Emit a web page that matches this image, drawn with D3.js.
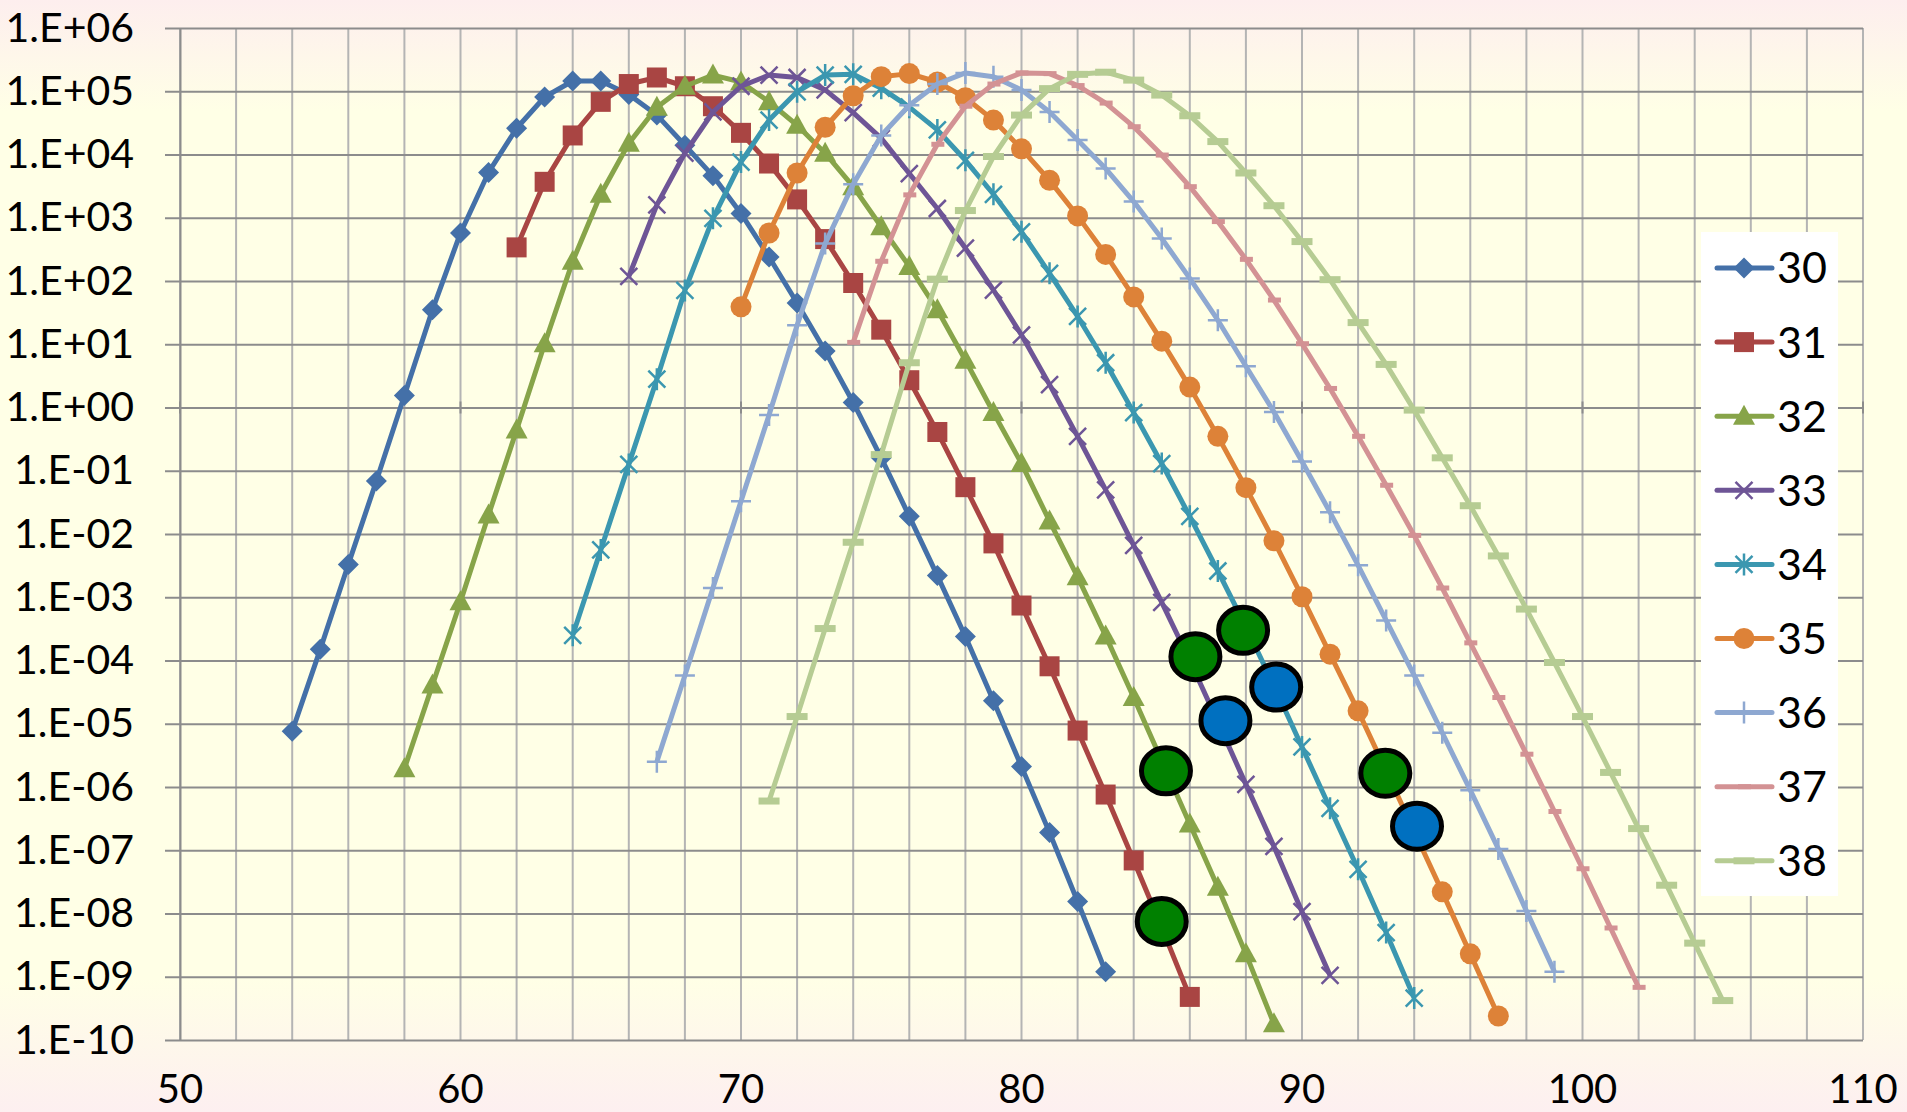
<!DOCTYPE html>
<html>
<head>
<meta charset="utf-8">
<script src="https://cdn.jsdelivr.net/npm/d3@7"></script>
<style>
  body { margin: 0; background: #fff; }
  text { font-family: Lato, "Open Sans", sans-serif; fill: #000; }
</style>
</head>
<body>
<svg id="chart" width="1907" height="1112"></svg>
<script>
// ---- data ----
const seriesNames = ["30", "31", "32", "33", "34", "35", "36", "37", "38"];
const seriesStart = [54, 62, 58, 66, 64, 70, 67, 74, 71];   // first x of each series, step 1
const seriesColors = ["#4470a8", "#a94543", "#87a449", "#6e5596", "#3b97b0", "#dd8238", "#8ea8d1", "#d39294", "#b6cc93"];
const seriesMarkers = ["diamond", "square", "triangle", "cross", "star", "circle", "plus", "dashS", "dashL"];

const s30 = [7.6e-6, 1.5e-4, 3.3e-3, 6.9e-2, 1.55, 35, 575, 5.2e3, 2.6e4, 8.1e4, 1.45e5, 1.45e5, 8.9e4, 4.2e4,
  1.4e4, 4.6e3, 1.17e3, 240, 45, 7.8, 1.2, 0.16, 1.9e-2, 2.2e-3, 2.4e-4, 2.3e-5, 2.1e-6, 1.9e-7, 1.55e-8, 1.2e-9];
const s31 = [340, 3.7e3, 2.0e4, 6.8e4, 1.3e5, 1.65e5, 1.2e5, 5.8e4, 2.2e4, 7.2e3, 1.95e3, 460, 93, 17, 2.7, 0.41,
  5.5e-2, 7.1e-3, 7.4e-4, 8.1e-5, 7.8e-6, 7.6e-7, 6.9e-8, 6.0e-9, 4.8e-10];
const s32 = [1.95e-6, 4.1e-5, 8.5e-4, 2.0e-2, 0.44, 10.2, 205, 2.35e3, 1.5e4, 5.6e4, 1.2e5, 1.8e5, 1.4e5, 6.8e4,
  2.9e4, 1.05e4, 3.1e3, 720, 170, 35, 5.6, 0.83, 0.13, 1.6e-2, 2.1e-3, 2.45e-4, 2.6e-5, 2.6e-6, 2.6e-7, 2.6e-8,
  2.3e-9, 1.8e-10];
const s33 = [118, 1.6e3, 1.05e4, 4.7e4, 1.2e5, 1.8e5, 1.65e5, 1.05e5, 4.6e4, 1.8e4, 5.0e3, 1.4e3, 330, 72, 14, 2.3,
  0.35, 5.0e-2, 6.6e-3, 8.3e-4, 1.0e-4, 1.07e-5, 1.1e-6, 1.15e-7, 1.07e-8, 1.05e-9];
const s34 = [2.5e-4, 5.6e-3, 0.126, 2.8, 71, 980, 7.6e3, 3.5e4, 9.8e4, 1.8e5, 1.85e5, 1.12e5, 5.6e4, 2.45e4, 8.1e3,
  2.35e3, 600, 132, 27.5, 5.1, 0.83, 0.13, 1.9e-2, 2.6e-3, 3.4e-4, 4.0e-5, 4.3e-6, 4.6e-7, 5.0e-8, 5.0e-9, 4.6e-10];
const s35 = [39, 575, 5.1e3, 2.7e4, 8.5e4, 1.7e5, 1.9e5, 1.4e5, 7.9e4, 3.5e4, 1.23e4, 3.9e3, 1.07e3, 263, 56, 11.2,
  2.1, 0.35, 5.4e-2, 7.8e-3, 1.02e-3, 1.26e-4, 1.6e-5, 1.8e-6, 2.0e-7, 2.2e-8, 2.3e-9, 2.4e-10];
const s36 = [2.5e-6, 5.8e-5, 1.4e-3, 3.3e-2, 0.76, 20, 390, 3.4e3, 2.0e4, 6.0e4, 1.3e5, 1.95e5, 1.7e5, 1.05e5, 4.7e4,
  1.7e4, 6.0e3, 1.8e3, 470, 110, 24, 4.5, 0.85, 0.14, 2.2e-2, 3.2e-3, 4.3e-4, 5.8e-5, 7.2e-6, 8.9e-7, 1.05e-7,
  1.1e-8, 1.2e-9];
const s37 = [10.7, 205, 2.3e3, 1.45e4, 5.8e4, 1.3e5, 1.95e5, 1.9e5, 1.23e5, 6.5e4, 2.75e4, 9.8e3, 3.1e3, 870, 220, 50,
  10.2, 2.0, 0.35, 5.9e-2, 9.5e-3, 1.4e-3, 1.9e-4, 2.6e-5, 3.3e-6, 4.1e-7, 5.1e-8, 5.9e-9, 6.8e-10];
const s38 = [6.0e-7, 1.3e-5, 3.2e-4, 7.4e-3, 0.18, 5.1, 107, 1.3e3, 9.3e3, 4.2e4, 1.1e5, 1.85e5, 2.0e5, 1.5e5, 8.7e4,
  4.1e4, 1.6e4, 5.1e3, 1.55e3, 420, 105, 22, 4.8, 0.91, 0.16, 2.8e-2, 4.5e-3, 6.5e-4, 9.3e-5, 1.3e-5, 1.7e-6,
  2.2e-7, 2.8e-8, 3.4e-9, 4.2e-10];
const seriesValues = [s30, s31, s32, s33, s34, s35, s36, s37, s38];

// highlighted points (big circles)
const greenX = [86.2, 87.9, 85.15, 85.0, 92.97];
const greenY = [1.15e-4, 3.0e-4, 1.8e-6, 7.5e-9, 1.65e-6];
const blueX = [87.27, 89.08, 94.1];
const blueY = [1.12e-5, 3.8e-5, 2.4e-7];

const xTicks = [50, 60, 70, 80, 90, 100, 110];
const yTicks = [1e-10, 1e-9, 1e-8, 1e-7, 1e-6, 1e-5, 1e-4, 1e-3, 1e-2, 1e-1, 1, 1e1, 1e2, 1e3, 1e4, 1e5, 1e6];

// ---- layout ----
const W = 1907, H = 1112;
const m = {l: 180, r: 1863, t: 28, b: 1040};
const svg = d3.select("#chart");

const x = d3.scaleLinear().domain([50, 110]).range([m.l, m.r]);
const y = d3.scaleLog().domain([1e-10, 1e6]).range([m.b, m.t]);

function fmtExp(v) {
  let e = Math.round(Math.log10(v));
  return "1.E" + (e < 0 ? "-" : "+") + String(Math.abs(e)).padStart(2, "0");
}

// background
let grad = svg.append("defs").append("linearGradient")
  .attr("id", "bg").attr("x1", 0).attr("y1", 0).attr("x2", 0).attr("y2", 1);
grad.append("stop").attr("offset", 0).attr("stop-color", "#fdeeee");
grad.append("stop").attr("offset", 0.1).attr("stop-color", "#ffffe6");
grad.append("stop").attr("offset", 0.88).attr("stop-color", "#ffffe6");
grad.append("stop").attr("offset", 1).attr("stop-color", "#fdeff0");
svg.append("rect").attr("width", W).attr("height", H).attr("fill", "url(#bg)");

// vertical grid, every 2
svg.append("g").selectAll("line")
  .data(d3.range(50, 111, 2))
  .enter().append("line")
  .attr("x1", d => x(d)).attr("x2", d => x(d))
  .attr("y1", m.t).attr("y2", m.b)
  .attr("stroke", "#b4b4b4").attr("stroke-width", 2);

// horizontal grid + y axis
let yAxis = svg.append("g")
  .attr("transform", "translate(" + m.l + ",0)")
  .call(d3.axisLeft(y).tickValues(yTicks).tickFormat(fmtExp)
    .tickSizeInner(15).tickSizeOuter(0).tickPadding(31));
yAxis.select(".domain").attr("stroke", "#8c8c8c").attr("stroke-width", 2);
yAxis.selectAll(".tick line").attr("stroke", "#8c8c8c").attr("stroke-width", 2);
yAxis.selectAll(".tick").append("line")
  .attr("x1", 0).attr("x2", m.r - m.l)
  .attr("stroke", "#8c8c8c").attr("stroke-width", 2);
yAxis.selectAll(".tick text")
  .attr("font-family", "Lato, sans-serif").attr("font-size", 41).attr("fill", "#000");

// x axis crosses at 1E+00 (tick marks only), labels at the bottom
svg.append("g").selectAll("line")
  .data(xTicks)
  .enter().append("line")
  .attr("x1", d => x(d)).attr("x2", d => x(d))
  .attr("y1", y(1) - 6).attr("y2", y(1) + 6)
  .attr("stroke", "#8c8c8c").attr("stroke-width", 2);
svg.append("g").selectAll("text")
  .data(xTicks)
  .enter().append("text")
  .attr("x", d => x(d)).attr("y", 1103)
  .attr("text-anchor", "middle")
  .attr("font-size", 40)
  .text(d => d);

// markers
function drawMarker(g, type, color) {
  if (type == "diamond") {
    g.append("path").attr("d", "M0,-10.5L10.5,0L0,10.5L-10.5,0Z").attr("fill", color);
  } else if (type == "square") {
    g.append("rect").attr("x", -10).attr("y", -10).attr("width", 20).attr("height", 20).attr("fill", color);
  } else if (type == "triangle") {
    g.append("path").attr("d", "M0,-11.5L11,8.5L-11,8.5Z").attr("fill", color);
  } else if (type == "cross") {
    g.append("path").attr("d", "M-8.5,-8.5L8.5,8.5M-8.5,8.5L8.5,-8.5").attr("stroke", color).attr("stroke-width", 2.5);
  } else if (type == "star") {
    g.append("path").attr("d", "M-8.5,-8.5L8.5,8.5M-8.5,8.5L8.5,-8.5M0,-11L0,11").attr("stroke", color).attr("stroke-width", 2.5);
  } else if (type == "circle") {
    g.append("circle").attr("r", 10.5).attr("fill", color);
  } else if (type == "plus") {
    g.append("path").attr("d", "M-10,0L10,0M0,-11L0,11").attr("stroke", color).attr("stroke-width", 2.5);
  } else if (type == "dashS") {
    g.append("rect").attr("x", -6).attr("y", -2.5).attr("width", 13).attr("height", 5).attr("fill", color);
  } else if (type == "dashL") {
    g.append("rect").attr("x", -10.5).attr("y", -3.5).attr("width", 21).attr("height", 7).attr("fill", color);
  }
}

let line = d3.line().x(d => x(d.x)).y(d => y(d.v));

seriesValues.forEach(function (vals, i) {
  let pts = vals.map((v, k) => ({x: seriesStart[i] + k, v: v}));
  let g = svg.append("g").attr("class", "series");
  g.append("path")
    .datum(pts)
    .attr("d", line)
    .attr("fill", "none")
    .attr("stroke", seriesColors[i])
    .attr("stroke-width", 5)
    .attr("stroke-linejoin", "round");
  g.selectAll(".mk")
    .data(pts)
    .enter().append("g")
    .attr("class", "mk")
    .attr("transform", d => "translate(" + x(d.x) + "," + y(d.v) + ")")
    .each(function () { drawMarker(d3.select(this), seriesMarkers[i], seriesColors[i]); });
});

// highlighted points
function bigDots(xs, ys, fill) {
  svg.append("g").selectAll("ellipse")
    .data(xs.map((d, k) => ({x: d, v: ys[k]})))
    .enter().append("ellipse")
    .attr("cx", d => x(d.x)).attr("cy", d => y(d.v))
    .attr("rx", 24.5).attr("ry", 23)
    .attr("fill", fill).attr("stroke", "#000").attr("stroke-width", 5);
}
bigDots(greenX, greenY, "#008000");
bigDots(blueX, blueY, "#0070c0");

// legend
let legend = svg.append("g");
legend.append("rect")
  .attr("x", 1701).attr("y", 232).attr("width", 137).attr("height", 664)
  .attr("fill", "#fff");
seriesNames.forEach(function (name, i) {
  let ly = 268 + i * 74.1;
  let it = legend.append("g").attr("transform", "translate(0," + ly + ")");
  it.append("line").attr("x1", 1717).attr("x2", 1772)
    .attr("stroke", seriesColors[i]).attr("stroke-width", 5).attr("stroke-linecap", "round");
  drawMarker(it.append("g").attr("transform", "translate(1744,0)"), seriesMarkers[i], seriesColors[i]);
  it.append("text").attr("x", 1777).attr("dy", "0.36em")
    .attr("font-size", 43).text(name);
});
</script>
</body>
</html>
